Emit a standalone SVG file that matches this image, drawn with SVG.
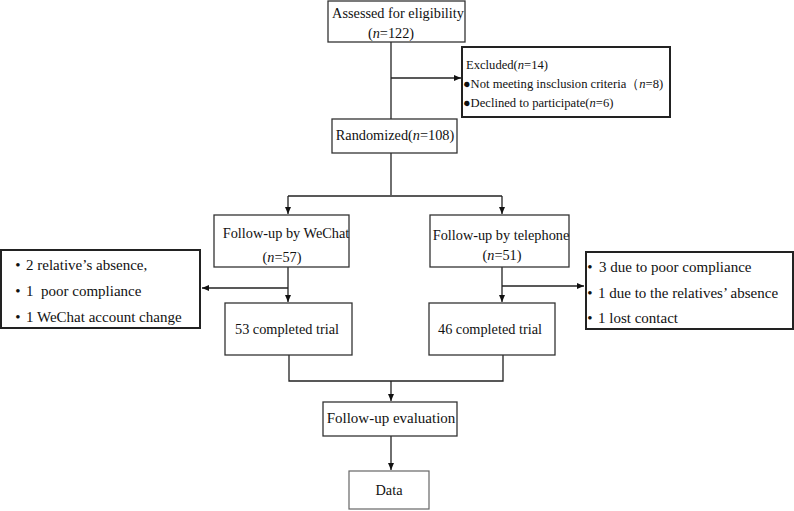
<svg xmlns="http://www.w3.org/2000/svg" width="794" height="511" viewBox="0 0 794 511">
<style>
text{font-family:"Liberation Serif","Times New Roman",serif;font-size:14.3px;fill:#111}
.sm{font-size:12.6px}
.side{font-size:15px}
.bul{font-size:15px;text-anchor:middle}
.box{fill:#fff;stroke:#333;stroke-width:1.3}
.thick{fill:#fff;stroke:#222;stroke-width:2}
.light{fill:#fff;stroke:#666;stroke-width:1.2}
.ln{fill:none;stroke:#222;stroke-width:1.3}
.c{text-anchor:middle}
</style>
<defs>
<marker id="ah" markerWidth="8" markerHeight="8" refX="7" refY="4" orient="auto" markerUnits="userSpaceOnUse">
<path d="M0,1 L7,4 L0,7 Z" fill="#111"/>
</marker>
</defs>
<rect width="794" height="511" fill="#fff"/>

<g id="connectors">
<path class="ln" d="M391,42 V119"/>
<path class="ln" d="M391,78 H461" marker-end="url(#ah)"/>
<path class="ln" d="M391,153 V195"/>
<path class="ln" d="M288,196 H502"/>
<path class="ln" d="M288,196 V214" marker-end="url(#ah)"/>
<path class="ln" d="M502,196 V214" marker-end="url(#ah)"/>
<path class="ln" d="M288,267 V302" marker-end="url(#ah)"/>
<path class="ln" d="M288,288 H202" marker-end="url(#ah)"/>
<path class="ln" d="M502,267 V302" marker-end="url(#ah)"/>
<path class="ln" d="M502,286 H584" marker-end="url(#ah)"/>
<path class="ln" d="M289,355 V381 H503 V355"/>
<path class="ln" d="M391,381 V401" marker-end="url(#ah)"/>
<path class="ln" d="M391,436 V470" marker-end="url(#ah)"/>
</g>

<g id="assessed">
<rect class="box" x="328" y="1" width="137" height="41"/>
<text class="c" x="398" y="18">Assessed for eligibility</text>
<text class="c" x="391" y="38">(<tspan font-style="italic">n</tspan>=122)</text>
</g>

<g id="excluded">
<rect class="thick" x="462" y="47" width="208" height="70"/>
<text class="sm" x="466" y="69">Excluded(<tspan font-style="italic">n</tspan>=14)</text>
<text class="sm" x="463" y="88">●Not meeting insclusion criteria（<tspan font-style="italic">n</tspan>=8)</text>
<text class="sm" x="463" y="107">●Declined to participate(<tspan font-style="italic">n</tspan>=6)</text>
</g>

<g id="randomized">
<rect class="box" x="332" y="119" width="125" height="34"/>
<text class="c" x="395" y="140">Randomized(<tspan font-style="italic">n</tspan>=108)</text>
</g>

<g id="wechat">
<rect class="box" x="214" y="215" width="135" height="52"/>
<text class="c" x="286" y="238">Follow-up by WeChat</text>
<text class="c" x="282" y="262">(<tspan font-style="italic">n</tspan>=57)</text>
</g>

<g id="telephone">
<rect class="box" x="430" y="215" width="139" height="52"/>
<text class="c" x="501" y="240">Follow-up by telephone</text>
<text class="c" x="502" y="260">(<tspan font-style="italic">n</tspan>=51)</text>
</g>

<g id="wechat-loss">
<rect class="thick" x="1" y="250" width="199" height="78"/>
<text class="bul" x="18" y="270">•</text>
<text class="side" x="26" y="270">2 relative’s absence,</text>
<text class="bul" x="18" y="296">•</text>
<text class="side" x="26" y="296">1&#160; poor compliance</text>
<text class="bul" x="18" y="322">•</text>
<text class="side" x="26" y="322">1 WeChat account change</text>
</g>

<g id="telephone-loss">
<rect class="thick" x="586" y="252" width="207" height="77"/>
<text class="bul" x="590" y="272">•</text>
<text class="side" x="599" y="272">3 due to poor compliance</text>
<text class="bul" x="590" y="298">•</text>
<text class="side" x="598" y="298">1 due to the relatives’ absence</text>
<text class="bul" x="590" y="323">•</text>
<text class="side" x="598" y="323">1 lost contact</text>
</g>

<g id="wechat-completed">
<rect class="box" x="225" y="303" width="127" height="52"/>
<text class="c" x="287" y="334">53 completed trial</text>
</g>

<g id="telephone-completed">
<rect class="box" x="429" y="303" width="126" height="52"/>
<text class="c" x="490" y="334">46 completed trial</text>
</g>

<g id="evaluation">
<rect class="box" x="323" y="402" width="134" height="34"/>
<text class="c side" x="391" y="423">Follow-up evaluation</text>
</g>

<g id="data">
<rect class="light" x="349" y="471" width="80" height="38"/>
<text class="c" x="389" y="495">Data</text>
</g>
</svg>
